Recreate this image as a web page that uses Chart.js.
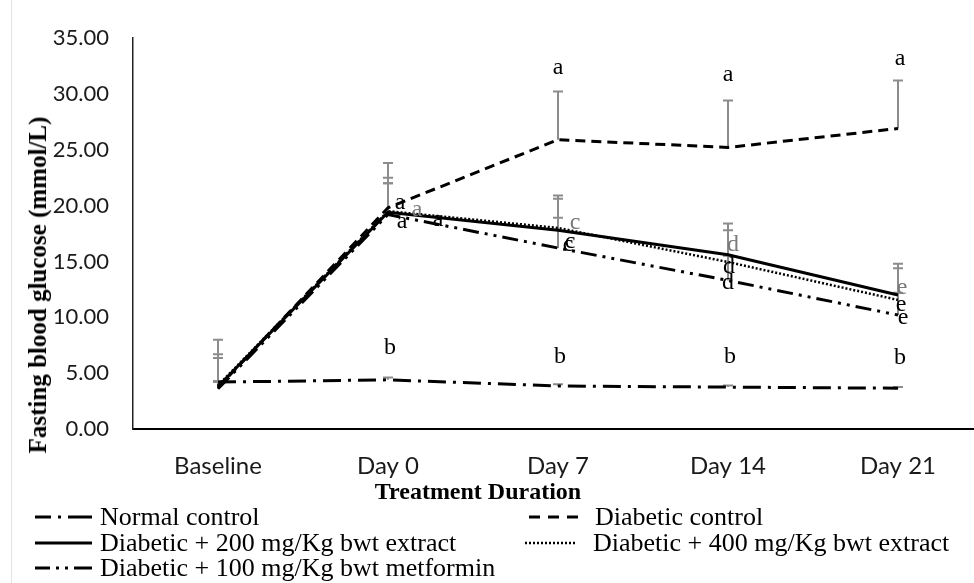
<!DOCTYPE html>
<html>
<head>
<meta charset="utf-8">
<script src="https://cdn.jsdelivr.net/npm/chart.js@4.4.0/dist/chart.umd.min.js"></script>
<style>
  html, body { margin: 0; padding: 0; background: #fff; overflow: hidden; }
  #wrap { position: relative; width: 974px; height: 583px; overflow: hidden; }
  #chart { position: absolute; left: 0; top: 0; }
  .edge { position: absolute; left: 11px; top: 0; width: 1px; height: 583px; background: #e3e3e3; }
  .ytitle { position: absolute; left: 38px; top: 285px; font: bold 25px "Liberation Serif"; white-space: nowrap;
            transform: translate(-50%, -50%) rotate(-90deg); }
  .xtitle { position: absolute; left: 478px; top: 491px; font: bold 24px "Liberation Serif"; white-space: nowrap;
            transform: translate(-50%, -50%); }
  .leg { position: absolute; display: flex; align-items: center; font: 26px "Liberation Serif"; line-height: 1;
         white-space: nowrap; transform: translateY(-50%); color: #000; }
  .leg svg { display: block; }
</style>
</head>
<body>
<div id="wrap">
  <div class="edge"></div>
  <canvas id="chart" width="990" height="583"></canvas>
  <div class="ytitle">Fasting blood glucose (mmol/L)</div>
  <div class="xtitle">Treatment Duration</div>

  <div class="leg" style="left:35px; top:517px;">
    <svg width="57" height="6"><line x1="0" y1="3" x2="57" y2="3" stroke="#000" stroke-width="3" stroke-dasharray="16 7 3 7 24"/></svg>
    <span style="margin-left:8px">Normal control</span>
  </div>
  <div class="leg" style="left:35px; top:543px;">
    <svg width="57" height="6"><line x1="0" y1="3" x2="57" y2="3" stroke="#000" stroke-width="3"/></svg>
    <span style="margin-left:8px">Diabetic + 200 mg/Kg bwt extract</span>
  </div>
  <div class="leg" style="left:35px; top:568px;">
    <svg width="57" height="6"><line x1="0" y1="3" x2="57" y2="3" stroke="#000" stroke-width="3" stroke-dasharray="15 6 3 6 3 6 18"/></svg>
    <span style="margin-left:8px">Diabetic + 100 mg/Kg bwt metformin</span>
  </div>
  <div class="leg" style="left:529px; top:517px;">
    <svg width="49" height="6"><line x1="0" y1="3" x2="49" y2="3" stroke="#000" stroke-width="3" stroke-dasharray="11 8 11 8 11"/></svg>
    <span style="margin-left:17px">Diabetic control</span>
  </div>
  <div class="leg" style="left:525px; top:543px;">
    <svg width="50" height="6"><line x1="0" y1="3" x2="50" y2="3" stroke="#000" stroke-width="2.5" stroke-dasharray="2 2"/></svg>
    <span style="margin-left:18px">Diabetic + 400 mg/Kg bwt extract</span>
  </div>
</div>

<script>
// categories and values (mmol/L)
const categories = ['Baseline', 'Day 0', 'Day 7', 'Day 14', 'Day 21'];
const yTicks = [0, 5, 10, 15, 20, 25, 30, 35];

const normalControl   = [4.2, 4.4, 3.85, 3.75, 3.65];
const diabeticControl = [3.7, 19.8, 25.9, 25.2, 26.9];
const extract200      = [3.8, 19.4, 17.8, 15.6, 12.0];
const extract400      = [3.9, 19.5, 18.0, 14.95, 11.55];
const metformin100    = [3.6, 19.2, 16.2, 13.3, 10.2];

// upper error bars (SD)
const normalControlErr   = [0.1, 0.2, 0.15, 0.15, 0.1];
const diabeticControlErr = [4.3, 4.0, 4.3, 4.2, 4.3];
const extract200Err      = [2.9, 3.1, 3.1, 2.8, 2.8];
const extract400Err      = [2.45, 2.5, 2.6, 2.85, 2.85];
const metformin100Err    = [0.6, 2.8, 2.7, 2.2, 2.0];

// significance letters
const normalLetters   = ['', 'b', 'b', 'b', 'b'];
const diabeticLetters = ['', 'a', 'a', 'a', 'a'];
const extract200Letters = ['', 'a', 'c', 'd', 'e'];
const extract400Letters = ['', 'a', 'c', 'd', 'e'];
const metforminLetters  = ['', 'a', 'c', 'd', 'e'];

const errorBars = {
    id: 'errorBars',
    beforeDatasetsDraw(chart, args, opts) {
        const { ctx, scales: { x, y } } = chart;
        ctx.save();
        ctx.strokeStyle = opts.color;
        ctx.lineWidth = opts.width;
        chart.data.datasets.forEach(ds => {
            ds.errors.forEach((e, j) => {
                const px = x.getPixelForValue(j);
                const y0 = y.getPixelForValue(ds.data[j]);
                const y1 = y.getPixelForValue(ds.data[j] + e);
                ctx.beginPath();
                ctx.moveTo(px, y0);
                ctx.lineTo(px, y1);
                ctx.moveTo(px - opts.cap, y1);
                ctx.lineTo(px + opts.cap, y1);
                ctx.stroke();
            });
        });
        ctx.restore();
    }
};

const letterLabels = {
    id: 'letterLabels',
    afterDatasetsDraw(chart, args, opts) {
        const { ctx, scales: { x, y } } = chart;
        ctx.save();
        ctx.font = opts.font;
        ctx.textAlign = 'center';
        ctx.textBaseline = 'middle';
        chart.data.datasets.forEach(ds => {
            ds.letters.forEach((t, j) => {
                if (!t) return;
                const off = ds.letterOffsets[j];
                ctx.fillStyle = ds.letterColor;
                ctx.fillText(t, x.getPixelForValue(j) + off[0], y.getPixelForValue(ds.data[j]) + off[1]);
            });
        });
        ctx.restore();
    }
};

const base = { borderColor: '#000', borderWidth: 3, pointRadius: 0, pointHoverRadius: 0, tension: 0, fill: false };

new Chart(document.getElementById('chart'), {
    type: 'line',
    data: {
        labels: categories,
        datasets: [
            { ...base, label: 'Normal control', data: normalControl, errors: normalControlErr,
              borderDash: [18, 7, 3, 7],
              letters: normalLetters, letterColor: '#000',
              letterOffsets: [[0, 0], [2, -32], [2, -29], [2, -30], [2, -31]] },
            { ...base, label: 'Diabetic control', data: diabeticControl, errors: diabeticControlErr,
              borderDash: [10, 6],
              letters: diabeticLetters, letterColor: '#000',
              letterOffsets: [[0, 0], [12, -5], [0, -72], [0, -73], [2, -70]] },
            { ...base, label: 'Diabetic + 200 mg/Kg bwt extract', data: extract200, errors: extract200Err,
              letters: extract200Letters, letterColor: '#7a7a7a',
              letterOffsets: [[0, 0], [29, -3], [17, -7], [5, -10], [4, -7]] },
            { ...base, label: 'Diabetic + 400 mg/Kg bwt extract', data: extract400, errors: extract400Err,
              borderDash: [2, 2], borderWidth: 2.5,
              letters: extract400Letters, letterColor: '#000',
              letterOffsets: [[0, 0], [50, 9], [10, 17], [1, 5], [3, 5]] },
            { ...base, label: 'Diabetic + 100 mg/Kg bwt metformin', data: metformin100, errors: metformin100Err,
              borderDash: [16, 6, 3, 6, 3, 6],
              letters: metforminLetters, letterColor: '#000',
              letterOffsets: [[0, 0], [14, 7], [12, -6], [0, 2], [5, 3]] }
        ]
    },
    options: {
        responsive: false,
        animation: false,
        events: [],
        layout: { padding: { top: 38, left: 0, right: 7, bottom: 104 } },
        plugins: {
            legend: { display: false },
            tooltip: { enabled: false },
            errorBars: { color: '#8c8c8c', width: 2, cap: 5 },
            letterLabels: { font: '24px "Liberation Serif"' }
        },
        scales: {
            x: {
                offset: true,
                grid: { drawOnChartArea: false, drawTicks: false },
                border: { display: true, color: '#000', width: 2 },
                ticks: { color: '#1a1a1a', font: { family: 'Lato', size: 24 }, padding: 23, maxRotation: 0 },
                afterFit: s => { s.height = 50; }
            },
            y: {
                min: 0,
                max: 35,
                afterBuildTicks: s => { s.ticks = yTicks.map(v => ({ value: v })); },
                grid: { drawOnChartArea: false, drawTicks: false },
                border: { display: true, color: '#222', width: 1.5 },
                ticks: { color: '#1a1a1a', font: { family: 'Lato', size: 22 }, padding: 24,
                         callback: v => v.toFixed(2) },
                afterFit: s => { s.width = 133; }
            }
        }
    },
    plugins: [errorBars, letterLabels]
});
</script>
</body>
</html>
